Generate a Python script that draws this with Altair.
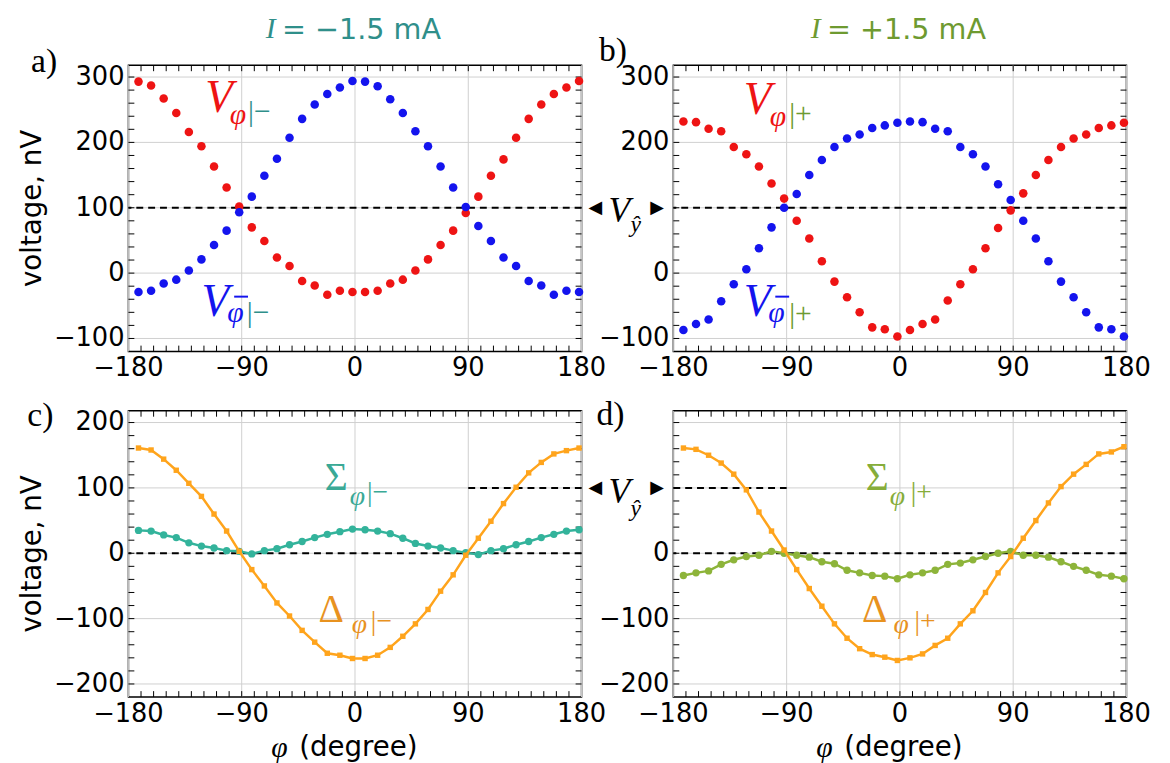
import altair as alt
import pandas as pd

# ---------------- data ----------------
phi = [-172, -162, -152, -142, -132, -122, -112, -102, -92, -82,
       -72, -62, -52, -42, -32, -22, -12, -2, 8, 18,
       28, 38, 48, 58, 68, 78, 88, 98, 108, 118,
       128, 138, 148, 158, 168, 178]

# panel a  (I = -1.5 mA)
v_phi_minus = [293, 287, 267, 245, 216, 194, 163, 131, 102, 70,
               49, 24, 11, -12, -19, -33, -27, -29, -29, -27,
               -16, -10, 4, 21, 43, 65, 92, 117, 149, 174,
               207, 236, 258, 274, 284, 294]
v_phibar_minus = [-29, -27, -16, -10, 4, 21, 43, 65, 93, 117,
                  149, 175, 207, 236, 258, 274, 284, 294, 293, 286,
                  266, 245, 217, 194, 163, 131, 101, 72, 49, 24,
                  11, -12, -19, -33, -27, -29]

# panel b  (I = +1.5 mA)
v_phi_plus = [232, 231, 221, 217, 193, 182, 163, 137, 114, 80,
              53, 18, -13, -37, -60, -83, -86, -97, -87, -78,
              -71, -42, -17, 6, 38, 69, 96, 122, 150, 173,
              193, 206, 212, 222, 226, 230]
v_phibar_plus = [-87, -78, -71, -43, -17, 6, 38, 70, 100, 121,
                 150, 173, 193, 206, 212, 222, 226, 230, 232, 231,
                 221, 217, 193, 182, 163, 136, 112, 80, 53, 18,
                 -13, -37, -60, -83, -86, -97]

# panel c
delta_minus = [161, 158, 144, 127, 107, 87, 60, 34, 3, -25,
               -50, -76, -96, -118, -136, -153, -156, -161, -161, -156,
               -144, -127, -108, -86, -58, -33, -3, 23, 49, 76,
               101, 123, 139, 152, 157, 161]
sigma_minus = [35, 34, 28, 24, 16, 11, 8, 4, 3, -1,
               4, 7, 13, 18, 24, 29, 33, 37, 36, 34,
               30, 23, 15, 11, 8, 4, 1, -2, 4, 7,
               13, 18, 24, 29, 34, 36]

# panel d
delta_plus = [161, 159, 150, 138, 121, 97, 63, 34, 5, -25,
              -54, -81, -108, -130, -146, -155, -159, -164, -160, -154,
              -141, -130, -108, -88, -60, -30, -5, 23, 50, 77,
              102, 121, 136, 152, 155, 163]
sigma_plus = [-34, -30, -27, -17, -10, -5, -3, 3, 0, -3,
              -6, -13, -16, -26, -30, -34, -35, -39, -33, -30,
              -26, -17, -15, -10, -5, 0, 3, -3, -3, -6,
              -13, -20, -26, -33, -35, -39]

# axes: ticks and tick labels
x_major = [-180, -90, 0, 90, 180]
x_labels = ["\u2212180", "\u221290", "0", "90", "180"]
x_minor = [-170, -160, -150, -140, -130, -120, -110, -100, -90, -80, -70, -60, -50, -40, -30,
           -20, -10, 0, 10, 20, 30, 40, 50, 60, 70, 80, 90, 100, 110, 120, 130, 140, 150, 160, 170]
y_major_top = [-100, 0, 100, 200, 300]
y_labels_a = ["\u2212100", "0", "100", "200", "300"]
y_labels_b = ["\u2212100", "0", "", "200", "300"]
y_minor_top = [-100, -80, -60, -40, -20, 0, 20, 40, 60, 80, 100, 120, 140, 160, 180, 200,
               220, 240, 260, 280, 300]
y_major_bot = [-200, -100, 0, 100, 200]
y_labels_c = ["\u2212200", "\u2212100", "0", "100", "200"]
y_labels_d = ["\u2212200", "\u2212100", "0", "", ""]
y_minor_bot = [-200, -180, -160, -140, -120, -100, -80, -60, -40, -20, 0, 20, 40, 60, 80, 100,
               120, 140, 160, 180, 200]

# reference (dashed) levels
v_yhat = 100
zero_level = 0
seg_c = [90, 180]
seg_d = [-180, -90]

# ---------------- style ----------------
W, H = 459, 290
RED = "#ee1414"
BLUE = "#1414ee"
ORANGE = "#ffa41c"
TEAL = "#33b39b"
GREEN = "#8db43a"
TEAL_TXT = "#2f8f8a"
GREEN_TXT = "#6e9a30"
SIG_M_TXT = "#3aa996"
SIG_P_TXT = "#86ad3a"
DEL_TXT = "#e8921f"
GRID = "#cfcfcf"
SANS = "DejaVu Sans"
SERIF = "Liberation Serif"
LBL = 26
TTL = 28

XS = alt.Scale(domain=[-180, 180], nice=False, zero=False)


def axes_layers(YS, ymajor, ylabels, yminor, xtitle, ytitle):
    out = []
    gx = pd.DataFrame({"gx": x_major})
    gy = pd.DataFrame({"gy": ymajor})
    out.append(alt.Chart(gx).mark_rule(color=GRID, strokeWidth=1).encode(
        x=alt.X("gx:Q", scale=XS, axis=None)))
    out.append(alt.Chart(gy).mark_rule(color=GRID, strokeWidth=1).encode(
        y=alt.Y("gy:Q", scale=YS, axis=None)))
    # inward ticks on the four sides
    xdf = pd.DataFrame({"tx": x_minor})
    ydf = pd.DataFrame({"ty": yminor})
    out.append(alt.Chart(xdf).mark_rule(color="black", strokeWidth=1).encode(
        x=alt.X("tx:Q", scale=XS, axis=None), y=alt.value(0), y2=alt.value(6)))
    out.append(alt.Chart(xdf).mark_rule(color="black", strokeWidth=1).encode(
        x=alt.X("tx:Q", scale=XS, axis=None), y=alt.value(H), y2=alt.value(H - 6)))
    out.append(alt.Chart(ydf).mark_rule(color="black", strokeWidth=1).encode(
        y=alt.Y("ty:Q", scale=YS, axis=None), x=alt.value(0), x2=alt.value(6)))
    out.append(alt.Chart(ydf).mark_rule(color="black", strokeWidth=1).encode(
        y=alt.Y("ty:Q", scale=YS, axis=None), x=alt.value(W), x2=alt.value(W - 6)))
    # tick labels
    xl = pd.DataFrame({"x": x_major, "t": x_labels})
    out.append(alt.Chart(xl).mark_text(font=SANS, fontSize=LBL, color="black",
                                       align="center", baseline="top").encode(
        x=alt.X("x:Q", scale=XS, axis=None), y=alt.value(H + 4), text="t:N"))
    yl = pd.DataFrame({"y": ymajor, "t": ylabels})
    yl = yl[yl["t"] != ""]
    out.append(alt.Chart(yl).mark_text(font=SANS, fontSize=LBL, color="black",
                                       align="right", baseline="middle").encode(
        y=alt.Y("y:Q", scale=YS, axis=None), x=alt.value(-4), text="t:N"))
    if ytitle:
        out.append(alt.Chart(pd.DataFrame({"t": [ytitle]})).mark_text(
            font=SANS, fontSize=TTL, color="black", angle=270, align="center",
            baseline="middle").encode(x=alt.value(-97), y=alt.value(H / 2), text="t:N"))
    if xtitle:
        out.append(alt.Chart(pd.DataFrame({"t": [xtitle[0]]})).mark_text(
            font=SERIF, fontSize=TTL + 2, fontStyle="italic", color="black", align="center",
            baseline="middle").encode(x=alt.value(153), y=alt.value(H + 52), text="t:N"))
        out.append(alt.Chart(pd.DataFrame({"t": [xtitle[1]]})).mark_text(
            font=SANS, fontSize=TTL, color="black", align="left",
            baseline="middle").encode(x=alt.value(173), y=alt.value(H + 52), text="t:N"))
    return out


def hline(YS, level):
    return alt.Chart(pd.DataFrame({"y": [level]})).mark_rule(
        color="black", strokeWidth=2, strokeDash=[7, 5]).encode(
        y=alt.Y("y:Q", scale=YS, axis=None))


def hseg(YS, level, seg, color="black", dash=True, width=2):
    df = pd.DataFrame({"x": [seg[0]], "x2": [seg[1]], "y": [level]})
    kw = dict(color=color, strokeWidth=width)
    if dash:
        kw["strokeDash"] = [7, 5]
    return alt.Chart(df).mark_rule(**kw).encode(
        x=alt.X("x:Q", scale=XS, axis=None), x2="x2:Q", y=alt.Y("y:Q", scale=YS, axis=None))


def pts(YS, yv, color, size, shape="circle"):
    df = pd.DataFrame({"x": phi, "y": yv})
    return alt.Chart(df).mark_point(filled=True, shape=shape, size=size, color=color,
                                    opacity=1, strokeWidth=0).encode(
        x=alt.X("x:Q", scale=XS, axis=None), y=alt.Y("y:Q", scale=YS, axis=None))


def line(YS, yv, color):
    df = pd.DataFrame({"x": phi, "y": yv})
    return alt.Chart(df).mark_line(color=color, strokeWidth=2.5).encode(
        x=alt.X("x:Q", scale=XS, axis=None), y=alt.Y("y:Q", scale=YS, axis=None))


def txt(YS, items):
    out = []
    for it in items:
        x, y, t, color, size, font, style = it[:7]
        align = it[7] if len(it) > 7 else "center"
        df = pd.DataFrame({"x": [x], "y": [y], "t": [t]})
        out.append(alt.Chart(df).mark_text(font=font, fontSize=size, fontStyle=style,
                                           color=color, align=align, baseline="middle").encode(
            x=alt.X("x:Q", scale=XS, axis=None), y=alt.Y("y:Q", scale=YS, axis=None),
            text="t:N"))
    return out


X_TITLE = ("\u03c6", "(degree)")

# ---------------- panel a ----------------
YS_a = alt.Scale(domain=[-120, 318], nice=False, zero=False)
ann_a = [
    (-67, 373, "I", TEAL_TXT, 30, SERIF, "italic"),
    (-58, 372, "= \u22121.5 mA", TEAL_TXT, 29, SANS, "normal", "left"),
    (-247, 323, "a)", "black", 34, SERIF, "normal"),
    (-108, 267, "V", RED, 46, SERIF, "italic"),
    (-93, 241, "\u03c6", RED, 30, SERIF, "italic"),
    (-76, 247, "|\u2212", TEAL_TXT, 30, SERIF, "normal"),
    (-111, -44, "V", BLUE, 46, SERIF, "italic"),
    (-95, -61, "\u03c6", BLUE, 30, SERIF, "italic"),
    (-77, -61, "|\u2212", TEAL_TXT, 30, SERIF, "normal"),
    (191, 100, "\u25c0", "black", 18, SANS, "normal"),
    (210, 95, "V", "black", 36, SERIF, "italic"),
    (223, 73, "\u0177", "black", 24, SERIF, "italic"),
    (240, 100, "\u25b6", "black", 18, SANS, "normal"),
]
panel_a = alt.layer(
    *axes_layers(YS_a, y_major_top, y_labels_a, y_minor_top, None, "voltage, nV"),
    hline(YS_a, v_yhat),
    pts(YS_a, v_phi_minus, RED, 75),
    pts(YS_a, v_phibar_minus, BLUE, 75),
    *txt(YS_a, ann_a),
    hseg(YS_a, -36, [-96, -85], BLUE, dash=False, width=2),
).properties(width=W, height=H)

# ---------------- panel b ----------------
YS_b = alt.Scale(domain=[-120, 318], nice=False, zero=False)
ann_b = [
    (-67, 373, "I", GREEN_TXT, 30, SERIF, "italic"),
    (-58, 372, "= +1.5 mA", GREEN_TXT, 29, SANS, "normal", "left"),
    (-228, 339, "b)", "black", 34, SERIF, "normal"),
    (-113, 265, "V", RED, 46, SERIF, "italic"),
    (-97, 238, "\u03c6", RED, 30, SERIF, "italic"),
    (-79, 243, "|+", GREEN_TXT, 30, SERIF, "normal"),
    (-113, -44, "V", BLUE, 46, SERIF, "italic"),
    (-98, -61, "\u03c6", BLUE, 30, SERIF, "italic"),
    (-79, -62, "|+", GREEN_TXT, 30, SERIF, "normal"),
]
panel_b = alt.layer(
    *axes_layers(YS_b, y_major_top, y_labels_b, y_minor_top, None, None),
    hline(YS_b, v_yhat),
    pts(YS_b, v_phi_plus, RED, 75),
    pts(YS_b, v_phibar_plus, BLUE, 75),
    *txt(YS_b, ann_b),
    hseg(YS_b, -36, [-99, -88], BLUE, dash=False, width=2),
).properties(width=W, height=H)

# ---------------- panel c ----------------
YS_c = alt.Scale(domain=[-220, 218], nice=False, zero=False)
ann_c = [
    (-250, 210, "c)", "black", 34, SERIF, "normal"),
    (-15, 115, "\u03a3", SIG_M_TXT, 40, SERIF, "normal"),
    (2, 86, "\u03c6", SIG_M_TXT, 28, SERIF, "italic"),
    (18, 92, "|\u2212", SIG_M_TXT, 28, SERIF, "normal"),
    (-19, -87, "\u0394", DEL_TXT, 40, SERIF, "normal"),
    (3.5, -110, "\u03c6", DEL_TXT, 28, SERIF, "italic"),
    (21, -105, "|\u2212", DEL_TXT, 28, SERIF, "normal"),
    (191, 100, "\u25c0", "black", 18, SANS, "normal"),
    (210, 94, "V", "black", 36, SERIF, "italic"),
    (223, 68, "\u0177", "black", 24, SERIF, "italic"),
    (240, 100, "\u25b6", "black", 18, SANS, "normal"),
]
panel_c = alt.layer(
    *axes_layers(YS_c, y_major_bot, y_labels_c, y_minor_bot, X_TITLE, "voltage, nV"),
    hline(YS_c, zero_level),
    hseg(YS_c, v_yhat, seg_c),
    line(YS_c, sigma_minus, TEAL),
    pts(YS_c, sigma_minus, TEAL, 55),
    line(YS_c, delta_minus, ORANGE),
    pts(YS_c, delta_minus, ORANGE, 30, "square"),
    *txt(YS_c, ann_c),
).properties(width=W, height=H)

# ---------------- panel d ----------------
YS_d = alt.Scale(domain=[-220, 218], nice=False, zero=False)
ann_d = [
    (-230, 211, "d)", "black", 34, SERIF, "normal"),
    (-18, 115, "\u03a3", SIG_P_TXT, 40, SERIF, "normal"),
    (-2, 86, "\u03c6", SIG_P_TXT, 28, SERIF, "italic"),
    (17, 92, "|+", SIG_P_TXT, 28, SERIF, "normal"),
    (-20, -87, "\u0394", DEL_TXT, 40, SERIF, "normal"),
    (1, -110, "\u03c6", DEL_TXT, 28, SERIF, "italic"),
    (20, -105, "|+", DEL_TXT, 28, SERIF, "normal"),
]
panel_d = alt.layer(
    *axes_layers(YS_d, y_major_bot, y_labels_d, y_minor_bot, X_TITLE, None),
    hline(YS_d, zero_level),
    hseg(YS_d, v_yhat, seg_d),
    line(YS_d, sigma_plus, GREEN),
    pts(YS_d, sigma_plus, GREEN, 55),
    line(YS_d, delta_plus, ORANGE),
    pts(YS_d, delta_plus, ORANGE, 30, "square"),
    *txt(YS_d, ann_d),
).properties(width=W, height=H)

chart = alt.concat(
    panel_a, panel_b, panel_c, panel_d,
    columns=2, spacing={"row": 60, "column": 93}, bounds="flush",
).configure_view(stroke="black", strokeWidth=1.5).properties(
    padding={"left": 10, "top": 0, "right": 10, "bottom": 10}
)

chart.save("out.html", embed_options={"renderer": "svg", "actions": False})
